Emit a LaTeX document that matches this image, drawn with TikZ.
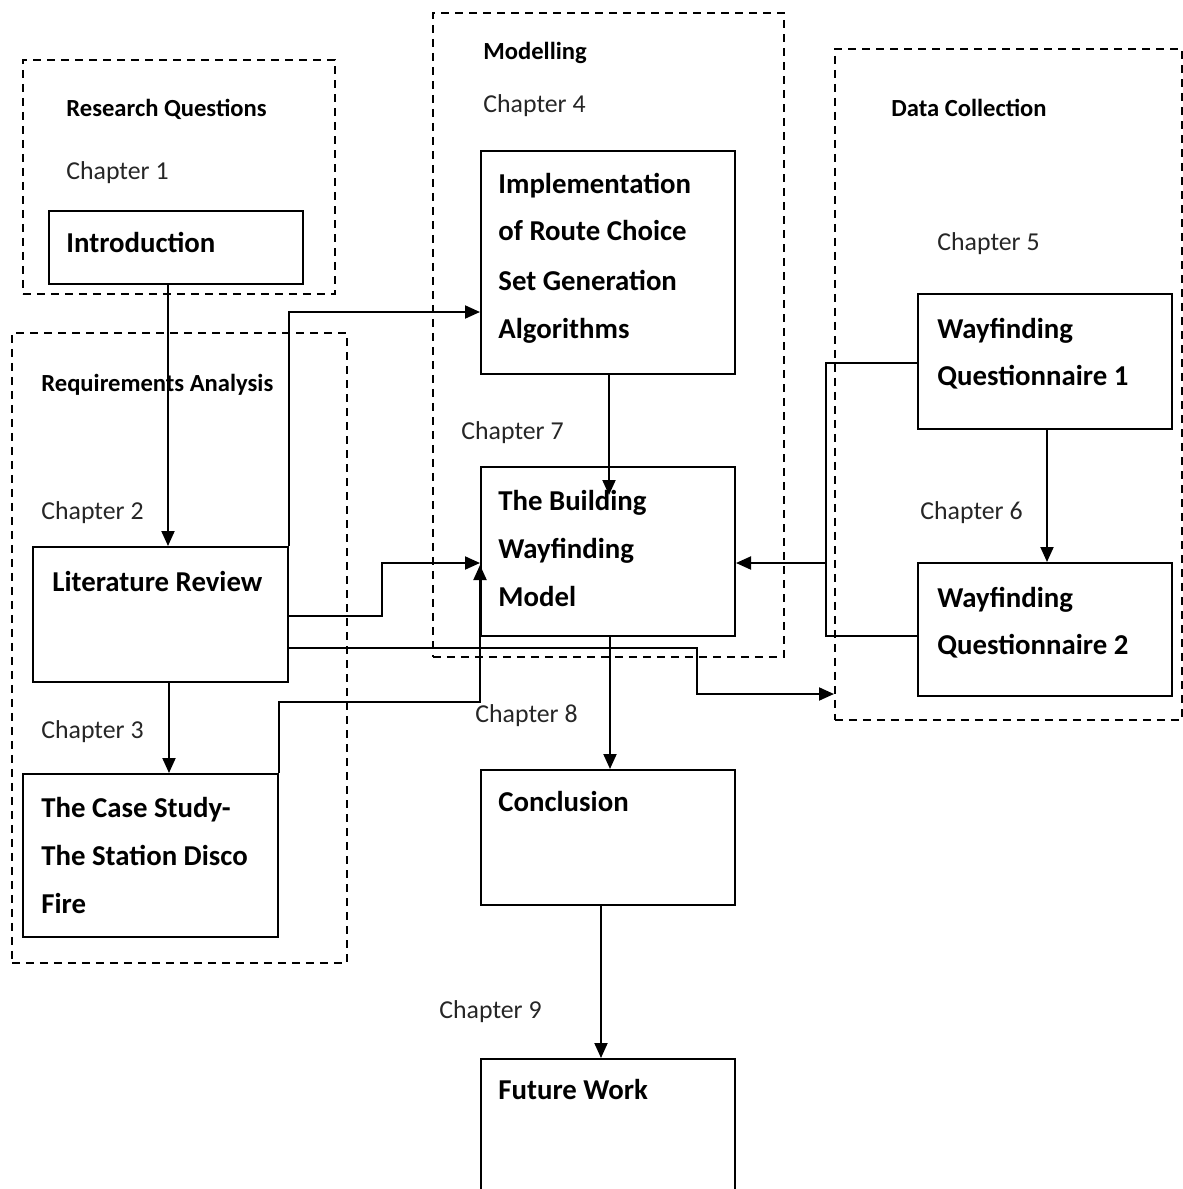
\documentclass[tikz,border=0pt]{standalone}
\usepackage{fontspec}
\setmainfont{Carlito}
\usetikzlibrary{arrows.meta}
\begin{document}
\begin{tikzpicture}[x=0.5pt,y=-0.5pt,
  group/.style={draw, dash pattern=on 4pt off 3pt, line width=0.9pt, rectangle, inner sep=0, anchor=north west},
  stage/.style={draw, line width=1pt, rectangle, inner sep=0, anchor=north west},
  hdr/.style={anchor=base west, inner sep=0, font=\fontsize{12.3}{14}\selectfont\bfseries},
  chap/.style={anchor=base west, inner sep=0, font=\fontsize{12.9}{15}\selectfont, text=black!85},
  lbl/.style={anchor=base west, inner sep=0, font=\fontsize{14.4}{17}\selectfont\bfseries},
  link/.style={line width=1pt, -{Triangle[length=7.5pt,width=6.5pt]}},
  wire/.style={line width=1pt}]
\useasboundingbox (0,0) rectangle (1183,1189);
\clip (0,0) rectangle (1183,1189);

% dashed groups
\node[group, minimum width=156pt, minimum height=117pt] (rq) at (22,59) {};
\node[group, minimum width=167.5pt, minimum height=315pt] (req) at (11,332) {};
\node[group, minimum width=175.5pt, minimum height=322pt] (mod) at (432,12) {};
\node[group, minimum width=173.5pt, minimum height=335.5pt] (data) at (834,48) {};

% chapter boxes
\node[stage, minimum width=127pt, minimum height=36.5pt] (intro) at (48,210) {};
\node[stage, minimum width=127.5pt, minimum height=67.5pt] (lit) at (32,546) {};
\node[stage, minimum width=127.5pt, minimum height=81.5pt] (case) at (22,773) {};
\node[stage, minimum width=127pt, minimum height=111.5pt] (impl) at (480,150) {};
\node[stage, minimum width=127pt, minimum height=84.5pt] (model) at (480,466) {};
\node[stage, minimum width=127pt, minimum height=67.5pt] (concl) at (480,769) {};
\node[stage, minimum width=127pt, minimum height=80pt] (future) at (480,1058) {};
\node[stage, minimum width=127pt, minimum height=67.5pt] (wqa) at (917,293) {};
\node[stage, minimum width=127pt, minimum height=66.5pt] (wqb) at (917,562) {};

% group headings
\node[hdr] (rqh) at (66,116) {Research Questions};
\node[hdr] (reqh) at (41,391) {Requirements Analysis};
\node[hdr] (modh) at (483,59) {Modelling};
\node[hdr] (datah) at (891,116) {Data Collection};

% chapter numbers
\node[chap] (ch1) at (66,179) {Chapter 1};
\node[chap] (ch2) at (41,519) {Chapter 2};
\node[chap] (ch3) at (41,738) {Chapter 3};
\node[chap] (ch4) at (483,112) {Chapter 4};
\node[chap] (ch5) at (937,250) {Chapter 5};
\node[chap] (ch6) at (920,519) {Chapter 6};
\node[chap] (ch7) at (461,439) {Chapter 7};
\node[chap] (ch8) at (475,722) {Chapter 8};
\node[chap] (ch9) at (439,1018) {Chapter 9};

% box titles
\node[lbl] (introA) at (66,252) {Introduction};
\node[lbl] (litA) at (52,591) {Literature Review};
\node[lbl] (caseA) at (41,817) {The Case Study-};
\node[lbl] (caseB) at (41,865) {The Station Disco};
\node[lbl] (caseC) at (41,913) {Fire};
\node[lbl] (implA) at (498,193) {Implementation};
\node[lbl] (implB) at (498,240) {of Route Choice};
\node[lbl] (implC) at (498,290) {Set Generation};
\node[lbl] (implD) at (498,338) {Algorithms};
\node[lbl] (modelA) at (498,510) {The Building};
\node[lbl] (modelB) at (498,558) {Wayfinding};
\node[lbl] (modelC) at (498,606) {Model};
\node[lbl] (conclA) at (498,811) {Conclusion};
\node[lbl] (futureA) at (498,1099) {Future Work};
\node[lbl] (wqaA) at (937,338) {Wayfinding};
\node[lbl] (wqaB) at (937,385) {Questionnaire 1};
\node[lbl] (wqbA) at (937,607) {Wayfinding};
\node[lbl] (wqbB) at (937,654) {Questionnaire 2};

% connectors
\draw[link] (intro.south -| 168,0) -- (lit.north -| 168,0);
\draw[link] (lit.north east) |- (impl.west |- 0,312);
\draw[link] (lit.east |- 0,616) -| (382,563) -- (model.west |- 0,563);
\draw[link] (lit.east |- 0,648) -| (697,694) -- (data.west |- 0,694);
\draw[link] (lit.south -| 169,0) -- (case.north -| 169,0);
\draw[link] (case.north east) |- (model.west |- 0,702) -- (model.west |- 0,565);
\draw[link] (impl.south -| 609,0) -- (609,495);
\draw[link] (model.south -| 610,0) -- (concl.north -| 610,0);
\draw[link] (concl.south -| 601,0) -- (future.north -| 601,0);
\draw[link] (wqa.south -| 1047,0) -- (wqb.north -| 1047,0);
\draw[wire] (wqa.west |- 0,363) -| (826,636) -- (wqb.west |- 0,636);
\draw[link] (826,563) -- (model.east |- 0,563);
\end{tikzpicture}
\end{document}
